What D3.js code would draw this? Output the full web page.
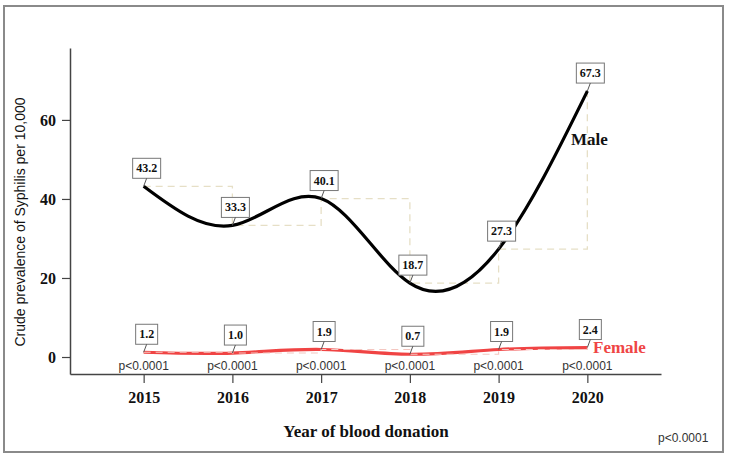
<!DOCTYPE html>
<html><head><meta charset="utf-8">
<script src="https://cdn.jsdelivr.net/npm/d3@7"></script>
<style>body{margin:0;background:#fff;} svg{display:block;}</style>
</head><body>
<svg id="chart" width="731" height="460"></svg>
<script>
const years = [2015, 2016, 2017, 2018, 2019, 2020];
const male = [43.2, 33.3, 40.1, 18.7, 27.3, 67.3];
const female = [1.2, 1.0, 1.9, 0.7, 1.9, 2.4];
const pLabels = ["p<0.0001", "p<0.0001", "p<0.0001", "p<0.0001", "p<0.0001", "p<0.0001"];
const yTicks = [0, 20, 40, 60];
const overallP = "p<0.0001";

const svg = d3.select("#chart");
const serif = "'Liberation Serif','Times New Roman',serif";
const sans = "'Liberation Sans',Arial,sans-serif";

// frame
svg.append("rect").attr("x", 4).attr("y", 6).attr("width", 719).attr("height", 446)
  .attr("fill", "none").attr("stroke", "#8a8a8a").attr("stroke-width", 2);

const x = d3.scaleLinear().domain([2014.17, 2020.83]).range([70, 661]);
const y = d3.scaleLinear().domain([-4.3, 78.2]).range([374, 48]);

// axes
const yAxis = svg.append("g").attr("transform", "translate(70,0)")
  .call(d3.axisLeft(y).tickValues(yTicks).tickSize(8).tickSizeOuter(0).tickPadding(6));
yAxis.select(".domain").attr("stroke", "#444").attr("stroke-width", 1.5);
yAxis.selectAll(".tick line").attr("stroke", "#444").attr("stroke-width", 1.2);
yAxis.selectAll(".tick text").attr("font-family", serif).attr("font-weight", "bold")
  .attr("font-size", 16).attr("fill", "#111");

const xAxis = svg.append("g").attr("transform", "translate(0,374)")
  .call(d3.axisBottom(x).tickValues(years).tickFormat(d3.format("d")).tickSize(9).tickSizeOuter(0).tickPadding(9));
xAxis.select(".domain").attr("stroke", "#444").attr("stroke-width", 1.5);
xAxis.selectAll(".tick line").attr("stroke", "#444").attr("stroke-width", 1.2);
xAxis.selectAll(".tick text").attr("font-family", serif).attr("font-weight", "bold")
  .attr("font-size", 16).attr("fill", "#111");

// titles
svg.append("text").attr("x", 366).attr("y", 437).attr("text-anchor", "middle")
  .attr("font-family", serif).attr("font-weight", "bold").attr("font-size", 17).attr("fill", "#111")
  .text("Year of blood donation");
svg.append("text").attr("transform", "translate(25,222) rotate(-90)").attr("text-anchor", "middle")
  .attr("font-family", sans).attr("font-size", 14).attr("fill", "#111")
  .text("Crude prevalence of Syphilis per 10,000");

const maleData = years.map((yr, i) => ({yr, v: male[i]}));
const femaleData = years.map((yr, i) => ({yr, v: female[i]}));

// step dashed guides
const step = d3.line().x(d => x(d.yr)).y(d => y(d.v)).curve(d3.curveStepAfter);
svg.append("path").datum(maleData).attr("d", step).attr("fill", "none")
  .attr("stroke", "#e6dfc6").attr("stroke-width", 1.3).attr("stroke-dasharray", "7,5");

// curves
const smooth = d3.line().x(d => x(d.yr)).y(d => y(d.v)).curve(d3.curveNatural);
svg.append("path").datum(maleData).attr("d", smooth).attr("fill", "none")
  .attr("stroke", "#000").attr("stroke-width", 3.2);
svg.append("path").datum(femaleData).attr("d", smooth).attr("fill", "none")
  .attr("stroke", "#f04444").attr("stroke-width", 3.2);
svg.append("path").datum(femaleData).attr("d", step).attr("fill", "none")
  .attr("stroke", "#f4c6c0").attr("stroke-width", 1.1).attr("stroke-dasharray", "7,5");

// value labels
function addLabels(data) {
  const g = svg.append("g");
  data.forEach(d => {
    const px = x(d.yr), py = y(d.v);
    const t = g.append("text").attr("font-family", serif).attr("font-weight", "bold")
      .attr("font-size", 12).attr("fill", "#111").attr("text-anchor", "middle")
      .text(d3.format(".1f")(d.v));
    const cx = px + 3, bottom = py - 8;
    t.attr("x", cx).attr("y", bottom - 6);
    const bb = t.node().getBBox();
    const w = bb.width + 7, h = 20;
    g.insert("rect", "text").attr("x", cx - w / 2).attr("y", bottom - h).attr("width", w).attr("height", h)
      .attr("fill", "#fff").attr("stroke", "#777").attr("stroke-width", 1);
    g.append("line").attr("x1", cx).attr("y1", bottom).attr("x2", px).attr("y2", py)
      .attr("stroke", "#555").attr("stroke-width", 1);
  });
  g.selectAll("text").raise();
}
addLabels(maleData);
addLabels(femaleData);

// p labels
svg.append("g").selectAll("text").data(years).join("text")
  .attr("x", d => x(d)).attr("y", 370).attr("text-anchor", "middle")
  .attr("font-family", sans).attr("font-size", 12).attr("fill", "#333")
  .text((d, i) => pLabels[i]);

// series labels
svg.append("text").attr("x", 571).attr("y", 145).attr("font-family", serif).attr("font-weight", "bold")
  .attr("font-size", 17).attr("fill", "#111").text("Male");
svg.append("text").attr("x", 593).attr("y", 353).attr("font-family", serif).attr("font-weight", "bold")
  .attr("font-size", 17).attr("fill", "#ef4545").text("Female");

svg.append("text").attr("x", 658).attr("y", 442).attr("font-family", sans).attr("font-size", 12)
  .attr("fill", "#333").text(overallP);
</script>
</body></html>
